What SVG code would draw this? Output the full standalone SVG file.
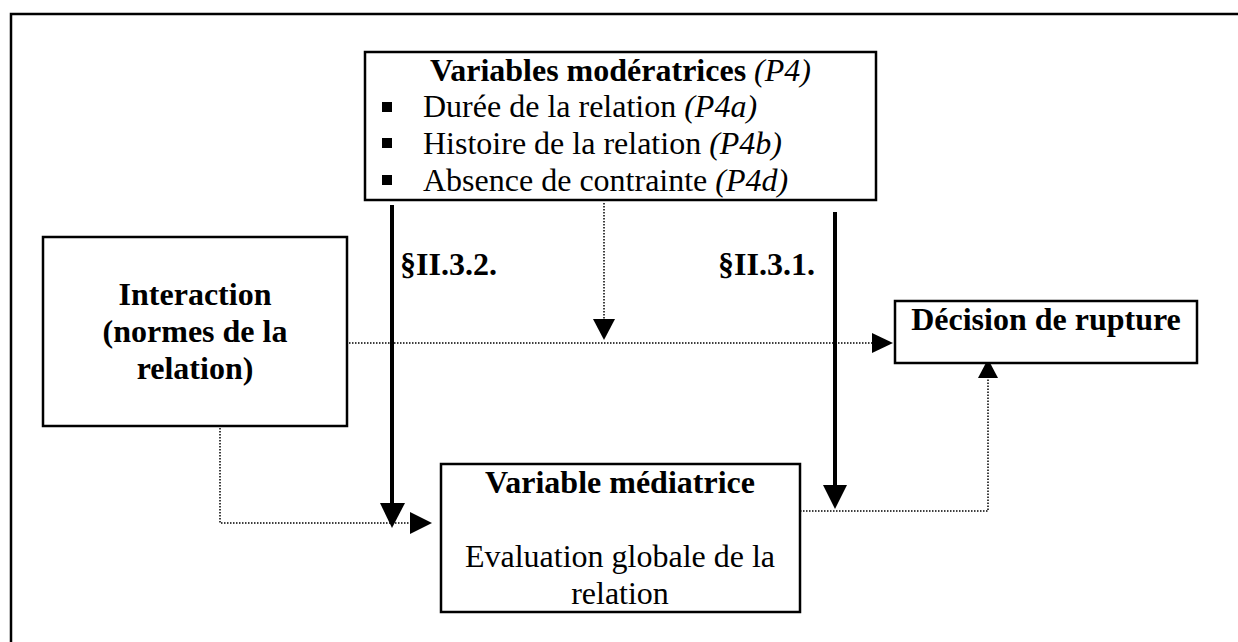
<svg xmlns="http://www.w3.org/2000/svg" width="1238" height="642" viewBox="0 0 1238 642">
<style>
text{font-family:"Liberation Serif","Times New Roman",serif;font-size:32px;fill:#000}
.b{font-weight:bold}
.i{font-style:italic}
.box{fill:#fff;stroke:#000;stroke-width:2.5}
.dot{fill:none;stroke:#000;stroke-width:1.5;stroke-dasharray:1.5 1.5}
.thick{fill:none;stroke:#000;stroke-width:4}
.head{fill:#000}
</style>
<rect width="1238" height="642" fill="#fff"/>
<path d="M11,642 V14 H1238" fill="none" stroke="#000" stroke-width="2.5"/>
<g id="connectors">
<line class="dot" x1="604" y1="203" x2="604" y2="320"/>
<polygon class="head" points="593,319 615,319 604,340"/>
<line class="dot" x1="349" y1="343" x2="874" y2="343"/>
<polygon class="head" points="872,333 872,353 893,343"/>
<polyline class="dot" points="220,428 220,523 412,523"/>
<polygon class="head" points="410,512 410,534 432,523"/>
<polyline class="dot" points="800,511 988,511 988,376"/>
<polygon class="head" points="978,378 998,378 988,359"/>
<line class="thick" x1="392" y1="205" x2="392" y2="505"/>
<polygon class="head" points="380,503 405,503 392,528"/>
<line class="thick" x1="835" y1="212" x2="835" y2="487"/>
<polygon class="head" points="823,485 847,485 835,509"/>
<text class="b" x="400" y="275">§II.3.2.</text>
<text class="b" x="718" y="275">§II.3.1.</text>
</g>
<g id="moderatrices">
<rect class="box" x="365" y="52" width="511" height="148"/>
<text x="430" y="81"><tspan class="b">Variables modératrices</tspan><tspan class="i" dx="8">(P4)</tspan></text>
<rect x="382" y="102" width="10" height="10"/>
<rect x="382" y="138" width="10" height="10"/>
<rect x="382" y="175" width="10" height="10"/>
<text x="423" y="117">Durée de la relation <tspan class="i">(P4a)</tspan></text>
<text x="423" y="154">Histoire de la relation <tspan class="i">(P4b)</tspan></text>
<text x="423" y="191">Absence de contrainte <tspan class="i">(P4d)</tspan></text>
</g>
<g id="interaction">
<rect class="box" x="43" y="237" width="304" height="189"/>
<text class="b" x="195" y="305" text-anchor="middle">Interaction</text>
<text class="b" x="195" y="342" text-anchor="middle">(normes de la</text>
<text class="b" x="195" y="379" text-anchor="middle">relation)</text>
</g>
<g id="decision">
<rect class="box" x="895" y="301" width="302" height="62"/>
<text class="b" x="1046" y="330" text-anchor="middle">Décision de rupture</text>
</g>
<g id="mediatrice">
<rect class="box" x="441" y="464" width="359" height="148"/>
<text class="b" x="620" y="493" text-anchor="middle">Variable médiatrice</text>
<text x="620" y="567" text-anchor="middle">Evaluation globale de la</text>
<text x="620" y="604" text-anchor="middle">relation</text>
</g>
</svg>
